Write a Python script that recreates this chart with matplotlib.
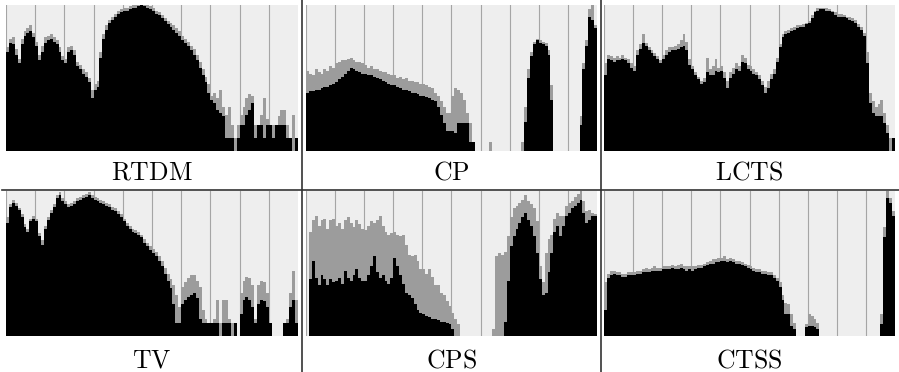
import numpy as np
import matplotlib.pyplot as plt
from matplotlib.lines import Line2D

plt.rcParams['mathtext.fontset'] = 'cm'

# bin heights in % of the panel, 100 bins per panel (10 per grid column)
# lo = solid part of the bin, hi = tallest spike inside the bin
rtdm_lo = [68, 74, 73, 66, 60, 73, 79, 81, 82, 78,
           72, 62, 68, 74, 76, 77, 75, 73, 68, 62,
           60, 68, 69, 66, 58, 56, 53, 51, 47, 36,
           42, 44, 64, 77, 83, 88, 90, 92, 94, 95,
           96, 96, 97, 98, 98, 99, 100, 99, 98, 97,
           96, 94, 93, 91, 89, 87, 85, 83, 81, 79,
           76, 74, 72, 69, 66, 62, 57, 52, 47, 40,
           35, 33, 28, 26, 24, 9, 9, 9, 0, 9,
           18, 18, 25, 28, 33, 9, 18, 18, 9, 18,
           18, 9, 18, 18, 18, 18, 9, 9, 0, 9]
rtdm_hi = [71, 77, 78, 70, 63, 77, 82, 84, 86, 81,
           75, 66, 72, 78, 79, 80, 78, 76, 71, 65,
           63, 71, 72, 69, 61, 59, 56, 54, 50, 42,
           46, 48, 68, 80, 86, 90, 92, 94, 96, 97,
           98, 98, 99, 100, 100, 100, 100, 100, 100, 99,
           98, 96, 95, 93, 91, 89, 88, 86, 84, 82,
           79, 77, 75, 72, 70, 66, 61, 56, 51, 46,
           38, 40, 36, 42, 30, 25, 30, 18, 9, 18,
           25, 30, 36, 39, 38, 18, 18, 25, 36, 22,
           18, 18, 18, 24, 28, 28, 18, 9, 25, 9]

cp_lo = [40, 41, 41, 42, 42, 43, 44, 44, 45, 46,
         47, 49, 51, 53, 55, 57, 56, 55, 54, 53,
         53, 52, 52, 51, 50, 49, 48, 47, 46, 45,
         45, 44, 43, 42, 42, 41, 40, 40, 39, 38,
         38, 37, 36, 35, 34, 30, 25, 19, 14, 14,
         14, 12, 19, 19, 19, 19, 6, 6, 0, 0,
         0, 0, 0, 0, 0, 0, 0, 0, 0, 0,
         0, 0, 0, 0, 0, 20, 50, 65, 73, 76,
         74, 73, 72, 66, 35, 0, 0, 0, 0, 0,
         0, 0, 0, 0, 18, 56, 72, 92, 90, 84]
cp_hi = [55, 53, 52, 56, 54, 53, 56, 55, 58, 57,
         60, 61, 62, 62, 63, 64, 62, 61, 61, 60,
         59, 57, 58, 56, 56, 55, 54, 54, 53, 52,
         52, 50, 51, 49, 50, 48, 48, 47, 47, 46,
         46, 45, 44, 43, 40, 38, 34, 30, 26, 26,
         38, 43, 42, 40, 35, 26, 19, 6, 0, 0,
         0, 0, 0, 6, 0, 0, 0, 0, 0, 0,
         0, 0, 0, 0, 6, 30, 56, 68, 75, 77,
         76, 75, 74, 69, 45, 0, 0, 0, 0, 0,
         0, 0, 0, 0, 24, 60, 76, 97, 100, 86]

lcts_lo = [52, 63, 62, 61, 62, 62, 63, 62, 60, 57,
           55, 66, 70, 74, 72, 69, 67, 65, 63, 60,
           63, 66, 68, 69, 69, 70, 71, 72, 69, 59,
           56, 52, 49, 46, 47, 54, 52, 52, 55, 54,
           55, 50, 43, 50, 53, 56, 55, 61, 60, 56,
           55, 53, 52, 49, 45, 40, 43, 49, 53, 61,
           71, 78, 80, 81, 82, 83, 84, 85, 85, 87,
           88, 91, 95, 96, 97, 97, 96, 96, 95, 93,
           92, 92, 92, 91, 90, 89, 88, 85, 83, 79,
           60, 33, 26, 24, 24, 24, 19, 12, 0, 9]
lcts_hi = [60, 66, 65, 64, 65, 64, 66, 64, 63, 60,
           58, 69, 73, 80, 74, 71, 69, 67, 65, 62,
           66, 69, 71, 71, 72, 73, 76, 80, 75, 63,
           58, 54, 51, 48, 50, 64, 56, 58, 63, 57,
           58, 54, 48, 54, 57, 60, 58, 66, 64, 59,
           58, 56, 54, 52, 48, 44, 48, 53, 56, 64,
           73, 80, 82, 83, 84, 85, 86, 86, 87, 88,
           89, 93, 96, 98, 98, 98, 98, 97, 96, 95,
           94, 94, 93, 92, 92, 91, 90, 87, 85, 81,
           68, 40, 34, 30, 32, 35, 26, 18, 9, 9]

tv_lo = [78, 89, 92, 90, 87, 82, 75, 72, 79, 81,
         79, 69, 63, 74, 80, 85, 89, 95, 97, 93,
         91, 89, 90, 91, 93, 94, 95, 96, 97, 95,
         94, 93, 92, 91, 90, 89, 87, 86, 84, 82,
         79, 76, 74, 72, 71, 70, 68, 64, 62, 59,
         57, 55, 52, 48, 43, 38, 33, 22, 9, 9,
         22, 25, 27, 28, 30, 26, 12, 9, 9, 9,
         9, 9, 9, 0, 9, 9, 9, 0, 9, 0,
         15, 25, 27, 25, 20, 9, 22, 25, 24, 20,
         9, 0, 0, 0, 0, 9, 9, 20, 25, 9]
tv_hi = [82, 91, 94, 92, 88, 84, 77, 74, 81, 83,
         81, 71, 66, 76, 82, 87, 91, 97, 99, 95,
         93, 91, 92, 93, 95, 96, 97, 98, 99, 97,
         96, 95, 94, 93, 92, 91, 89, 88, 86, 84,
         81, 78, 76, 74, 73, 72, 70, 67, 64, 62,
         60, 58, 55, 52, 47, 43, 39, 35, 28, 20,
         34, 37, 40, 42, 42, 38, 34, 18, 12, 9,
         9, 12, 25, 9, 25, 25, 12, 9, 9, 0,
         30, 38, 41, 40, 35, 12, 35, 38, 37, 30,
         9, 0, 0, 0, 0, 9, 12, 30, 45, 25]

cps_lo = [0, 39, 52, 40, 35, 42, 39, 35, 39, 37,
          38, 40, 36, 45, 40, 38, 42, 46, 40, 38,
          38, 42, 48, 55, 44, 40, 42, 38, 36, 40,
          54, 48, 42, 36, 30, 28, 26, 22, 18, 16,
          15, 14, 13, 12, 12, 11, 10, 10, 9, 8,
          5, 0, 0, 0, 0, 0, 0, 0, 0, 0,
          0, 0, 0, 0, 0, 0, 0, 0, 10, 38,
          62, 69, 74, 78, 82, 85, 80, 76, 69, 57,
          39, 28, 30, 44, 57, 72, 76, 69, 76, 83,
          85, 88, 90, 92, 94, 85, 78, 80, 83, 83]
cps_hi = [0, 72, 80, 83, 76, 80, 81, 74, 80, 81,
          76, 78, 74, 80, 82, 78, 75, 80, 77, 74,
          73, 76, 79, 78, 80, 83, 76, 72, 70, 71,
          72, 70, 69, 70, 63, 56, 55, 56, 52, 46,
          46, 43, 46, 41, 35, 35, 30, 28, 24, 21,
          16, 12, 8, 0, 0, 0, 0, 0, 0, 0,
          0, 0, 0, 0, 5, 55, 57, 56, 58, 69,
          82, 88, 90, 92, 94, 97, 93, 91, 88, 79,
          48, 37, 57, 67, 70, 81, 85, 83, 83, 90,
          92, 93, 96, 98, 100, 93, 86, 87, 85, 84]

ctss_lo = [18, 40, 42, 43, 42, 42, 41, 41, 42, 42,
           42, 43, 43, 44, 44, 44, 45, 45, 45, 45,
           46, 46, 46, 47, 46, 46, 47, 46, 45, 46,
           45, 46, 47, 47, 48, 49, 50, 50, 51, 51,
           52, 52, 51, 52, 51, 50, 50, 49, 48, 47,
           46, 45, 44, 44, 43, 43, 42, 42, 40, 38,
           34, 25, 15, 15, 7, 5, 0, 0, 0, 6,
           7, 7, 6, 5, 0, 0, 0, 0, 0, 0,
           0, 0, 0, 0, 0, 0, 0, 0, 0, 0,
           0, 0, 0, 0, 0, 8, 68, 95, 92, 83]
ctss_hi = [37, 43, 45, 45, 44, 44, 43, 43, 44, 44,
           44, 45, 45, 46, 47, 46, 47, 48, 47, 47,
           48, 48, 48, 49, 48, 49, 50, 48, 48, 48,
           48, 48, 49, 49, 50, 51, 52, 53, 53, 54,
           54, 55, 53, 54, 53, 52, 52, 51, 50, 49,
           48, 47, 46, 46, 45, 45, 44, 44, 42, 40,
           37, 28, 23, 22, 15, 9, 0, 0, 0, 8,
           15, 14, 12, 9, 0, 0, 0, 0, 0, 0,
           0, 0, 0, 0, 0, 0, 0, 0, 0, 0,
           0, 0, 0, 0, 0, 15, 75, 100, 95, 86]

names = ['RTDM', 'CP', 'LCTS', 'TV', 'CPS', 'CTSS']
lows = [rtdm_lo, cp_lo, lcts_lo, tv_lo, cps_lo, ctss_lo]
highs = [rtdm_hi, cp_hi, lcts_hi, tv_hi, cps_hi, ctss_hi]

W, H = 899, 372
fig = plt.figure(figsize=(W / 100, H / 100), dpi=100)

# panel boxes in pixels: (left, right), (top, bottom)
cols = [(6, 298), (306, 597), (604, 895)]
rows = [(5, 151), (191, 336)]
label_base = [180, 367]

edges = np.linspace(0, 10, 101)
for k, name in enumerate(names):
    r, c = divmod(k, 3)
    x0, x1 = cols[c]
    y0, y1 = rows[r]
    ax = fig.add_axes([x0 / W, 1 - y1 / H, (x1 - x0) / W, (y1 - y0) / H])
    ax.set_facecolor('#eeeeee')
    ax.stairs(highs[k], edges, fill=True, color='#9c9c9c', lw=0)
    ax.stairs(lows[k], edges, fill=True, color='black', lw=0)
    ax.set_xlim(0, 10)
    ax.set_ylim(0, 100)
    ax.set_xticks(np.arange(10))
    ax.set_yticks([])
    ax.tick_params(length=0, labelbottom=False)
    ax.grid(axis='x', color='#a5a5a5', lw=0.8)
    ax.set_axisbelow(True)
    for s in ax.spines.values():
        s.set_visible(False)
    fig.text((x0 + x1) / 2 / W, 1 - label_base[r] / H, r'$\mathrm{%s}$' % name,
             ha='center', va='baseline', fontsize=18.5)

# separators between the panels
sep = dict(color='#333333', lw=1.2, transform=fig.transFigure)
fig.add_artist(Line2D([301.5 / W, 301.5 / W], [0, 1], **sep))
fig.add_artist(Line2D([601 / W, 601 / W], [0, 1], **sep))
fig.add_artist(Line2D([2 / W, 1], [1 - 190 / H, 1 - 190 / H], **sep))

fig.savefig('out.png', dpi=100)
